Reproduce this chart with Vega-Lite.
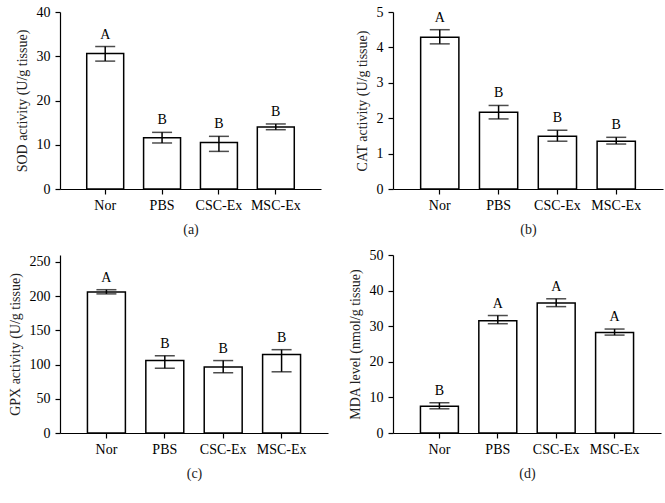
{
  "$schema": "https://vega.github.io/schema/vega-lite/v6.json",
  "background": "white",
  "padding": {"left": 8, "top": 5, "right": 5, "bottom": 5},
  "datasets": {
    "d": [
      {"panel": "a", "group": "Nor", "mean": 30.6, "lower": 28.9, "upper": 32.2, "letter": "A"},
      {"panel": "a", "group": "PBS", "mean": 11.6, "lower": 10.4, "upper": 12.8, "letter": "B"},
      {"panel": "a", "group": "CSC-Ex", "mean": 10.5, "lower": 8.5, "upper": 11.9, "letter": "B"},
      {"panel": "a", "group": "MSC-Ex", "mean": 14.0, "lower": 13.4, "upper": 14.7, "letter": "B"},
      {"panel": "b", "group": "Nor", "mean": 4.29, "lower": 4.1, "upper": 4.5, "letter": "A"},
      {"panel": "b", "group": "PBS", "mean": 2.17, "lower": 1.98, "upper": 2.36, "letter": "B"},
      {"panel": "b", "group": "CSC-Ex", "mean": 1.49, "lower": 1.35, "upper": 1.66, "letter": "B"},
      {"panel": "b", "group": "MSC-Ex", "mean": 1.35, "lower": 1.27, "upper": 1.46, "letter": "B"},
      {"panel": "c", "group": "Nor", "mean": 206, "lower": 203.2, "upper": 209.3, "letter": "A"},
      {"panel": "c", "group": "PBS", "mean": 106, "lower": 94.6, "upper": 112.8, "letter": "B"},
      {"panel": "c", "group": "CSC-Ex", "mean": 96.5, "lower": 88.0, "upper": 105.8, "letter": "B"},
      {"panel": "c", "group": "MSC-Ex", "mean": 114.5, "lower": 89.4, "upper": 121.7, "letter": "B"},
      {"panel": "d", "group": "Nor", "mean": 7.5, "lower": 6.8, "upper": 8.5, "letter": "B"},
      {"panel": "d", "group": "PBS", "mean": 31.5, "lower": 30.7, "upper": 33.0, "letter": "A"},
      {"panel": "d", "group": "CSC-Ex", "mean": 36.5, "lower": 35.5, "upper": 37.7, "letter": "A"},
      {"panel": "d", "group": "MSC-Ex", "mean": 28.2, "lower": 27.5, "upper": 29.2, "letter": "A"}
    ]
  },
  "columns": 2,
  "spacing": {"row": 12, "column": 20},
  "concat": [
    {
      "width": 261, "height": 177,
      "data": {"name": "d"},
      "transform": [{"filter": "datum.panel === 'a'"}],
      "encoding": {
        "x": {"field": "group", "type": "nominal", "sort": ["Nor", "PBS", "CSC-Ex", "MSC-Ex"], "scale": {"paddingInner": 0.35, "paddingOuter": 0.47}, "axis": {"title": "(a)"}}
      },
      "layer": [
        {"mark": {"type": "bar", "fill": "white", "stroke": "black", "strokeWidth": 1.5},
         "encoding": {"y": {"field": "mean", "type": "quantitative", "scale": {"domain": [0, 40]}, "axis": {"title": "SOD activity (U/g tissue)", "values": [0, 10, 20, 30, 40]}}}},
        {"mark": {"type": "rule", "color": "black", "strokeWidth": 1.5},
         "encoding": {"y": {"field": "lower", "type": "quantitative", "axis": {"title": "SOD activity (U/g tissue)", "values": [0, 10, 20, 30, 40]}}, "y2": {"field": "upper"}}},
        {"mark": {"type": "tick", "color": "black", "thickness": 1.5, "size": 20},
         "encoding": {"y": {"field": "lower", "type": "quantitative", "axis": {"title": "SOD activity (U/g tissue)", "values": [0, 10, 20, 30, 40]}}}},
        {"mark": {"type": "tick", "color": "black", "thickness": 1.5, "size": 20},
         "encoding": {"y": {"field": "upper", "type": "quantitative", "axis": {"title": "SOD activity (U/g tissue)", "values": [0, 10, 20, 30, 40]}}}},
        {"mark": {"type": "text", "baseline": "bottom", "dy": -5, "fontSize": 14, "font": "Liberation Serif", "color": "black"},
         "encoding": {"y": {"field": "upper", "type": "quantitative", "axis": {"title": "SOD activity (U/g tissue)", "values": [0, 10, 20, 30, 40]}}, "text": {"field": "letter"}}}
      ]
    },
    {
      "width": 270, "height": 177,
      "data": {"name": "d"},
      "transform": [{"filter": "datum.panel === 'b'"}],
      "encoding": {
        "x": {"field": "group", "type": "nominal", "sort": ["Nor", "PBS", "CSC-Ex", "MSC-Ex"], "scale": {"paddingInner": 0.35, "paddingOuter": 0.47}, "axis": {"title": "(b)"}}
      },
      "layer": [
        {"mark": {"type": "bar", "fill": "white", "stroke": "black", "strokeWidth": 1.5},
         "encoding": {"y": {"field": "mean", "type": "quantitative", "scale": {"domain": [0, 5]}, "axis": {"title": "CAT activity (U/g tissue)", "values": [0, 1, 2, 3, 4, 5]}}}},
        {"mark": {"type": "rule", "color": "black", "strokeWidth": 1.5},
         "encoding": {"y": {"field": "lower", "type": "quantitative", "axis": {"title": "CAT activity (U/g tissue)", "values": [0, 1, 2, 3, 4, 5]}}, "y2": {"field": "upper"}}},
        {"mark": {"type": "tick", "color": "black", "thickness": 1.5, "size": 20},
         "encoding": {"y": {"field": "lower", "type": "quantitative", "axis": {"title": "CAT activity (U/g tissue)", "values": [0, 1, 2, 3, 4, 5]}}}},
        {"mark": {"type": "tick", "color": "black", "thickness": 1.5, "size": 20},
         "encoding": {"y": {"field": "upper", "type": "quantitative", "axis": {"title": "CAT activity (U/g tissue)", "values": [0, 1, 2, 3, 4, 5]}}}},
        {"mark": {"type": "text", "baseline": "bottom", "dy": -5, "fontSize": 14, "font": "Liberation Serif", "color": "black"},
         "encoding": {"y": {"field": "upper", "type": "quantitative", "axis": {"title": "CAT activity (U/g tissue)", "values": [0, 1, 2, 3, 4, 5]}}, "text": {"field": "letter"}}}
      ]
    },
    {
      "width": 268, "height": 178,
      "data": {"name": "d"},
      "transform": [{"filter": "datum.panel === 'c'"}],
      "encoding": {
        "x": {"field": "group", "type": "nominal", "sort": ["Nor", "PBS", "CSC-Ex", "MSC-Ex"], "scale": {"paddingInner": 0.35, "paddingOuter": 0.47}, "axis": {"title": "(c)"}}
      },
      "layer": [
        {"mark": {"type": "bar", "fill": "white", "stroke": "black", "strokeWidth": 1.5},
         "encoding": {"y": {"field": "mean", "type": "quantitative", "scale": {"domain": [0, 250]}, "axis": {"title": "GPX activity (U/g tissue)", "values": [0, 50, 100, 150, 200, 250]}}}},
        {"mark": {"type": "rule", "color": "black", "strokeWidth": 1.5},
         "encoding": {"y": {"field": "lower", "type": "quantitative", "axis": {"title": "GPX activity (U/g tissue)", "values": [0, 50, 100, 150, 200, 250]}}, "y2": {"field": "upper"}}},
        {"mark": {"type": "tick", "color": "black", "thickness": 1.5, "size": 20},
         "encoding": {"y": {"field": "lower", "type": "quantitative", "axis": {"title": "GPX activity (U/g tissue)", "values": [0, 50, 100, 150, 200, 250]}}}},
        {"mark": {"type": "tick", "color": "black", "thickness": 1.5, "size": 20},
         "encoding": {"y": {"field": "upper", "type": "quantitative", "axis": {"title": "GPX activity (U/g tissue)", "values": [0, 50, 100, 150, 200, 250]}}}},
        {"mark": {"type": "text", "baseline": "bottom", "dy": -5, "fontSize": 14, "font": "Liberation Serif", "color": "black"},
         "encoding": {"y": {"field": "upper", "type": "quantitative", "axis": {"title": "GPX activity (U/g tissue)", "values": [0, 50, 100, 150, 200, 250]}}, "text": {"field": "letter"}}}
      ]
    },
    {
      "width": 268, "height": 178,
      "data": {"name": "d"},
      "transform": [{"filter": "datum.panel === 'd'"}],
      "encoding": {
        "x": {"field": "group", "type": "nominal", "sort": ["Nor", "PBS", "CSC-Ex", "MSC-Ex"], "scale": {"paddingInner": 0.35, "paddingOuter": 0.47}, "axis": {"title": "(d)"}}
      },
      "layer": [
        {"mark": {"type": "bar", "fill": "white", "stroke": "black", "strokeWidth": 1.5},
         "encoding": {"y": {"field": "mean", "type": "quantitative", "scale": {"domain": [0, 50]}, "axis": {"title": "MDA level (nmol/g tissue)", "values": [0, 10, 20, 30, 40, 50]}}}},
        {"mark": {"type": "rule", "color": "black", "strokeWidth": 1.5},
         "encoding": {"y": {"field": "lower", "type": "quantitative", "axis": {"title": "MDA level (nmol/g tissue)", "values": [0, 10, 20, 30, 40, 50]}}, "y2": {"field": "upper"}}},
        {"mark": {"type": "tick", "color": "black", "thickness": 1.5, "size": 20},
         "encoding": {"y": {"field": "lower", "type": "quantitative", "axis": {"title": "MDA level (nmol/g tissue)", "values": [0, 10, 20, 30, 40, 50]}}}},
        {"mark": {"type": "tick", "color": "black", "thickness": 1.5, "size": 20},
         "encoding": {"y": {"field": "upper", "type": "quantitative", "axis": {"title": "MDA level (nmol/g tissue)", "values": [0, 10, 20, 30, 40, 50]}}}},
        {"mark": {"type": "text", "baseline": "bottom", "dy": -5, "fontSize": 14, "font": "Liberation Serif", "color": "black"},
         "encoding": {"y": {"field": "upper", "type": "quantitative", "axis": {"title": "MDA level (nmol/g tissue)", "values": [0, 10, 20, 30, 40, 50]}}, "text": {"field": "letter"}}}
      ]
    }
  ],
  "config": {
    "view": {"stroke": null},
    "font": "Liberation Serif",
    "axis": {
      "domainColor": "black", "domainWidth": 1.2, "tickColor": "black", "tickWidth": 1.2, "tickSize": 5,
      "labelColor": "black", "titleColor": "#222222",
      "labelFont": "Liberation Serif", "titleFont": "Liberation Serif",
      "labelFontSize": 14, "titleFontSize": 14, "titleFontWeight": "normal", "grid": false
    },
    "axisX": {"labelAngle": 0, "titlePadding": 10, "labelPadding": 4},
    "axisY": {"titlePadding": 7, "labelPadding": 5}
  }
}
